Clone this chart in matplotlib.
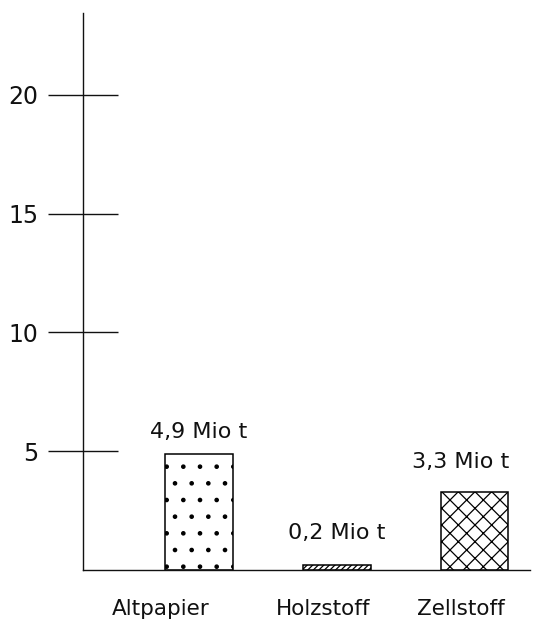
import matplotlib.pyplot as plt

categories = ['Altpapier', 'Holzstoff', 'Zellstoff']
values = [4.9, 0.2, 3.3]
value_labels = ['4,9 Mio t', '0,2 Mio t', '3,3 Mio t']
hatches = ['.', '//////', 'xx']
yticks = [5, 10, 15, 20]

plt.rcParams['font.family'] = ['DejaVu Sans']
plt.rcParams['hatch.linewidth'] = 0.9

fig = plt.figure(figsize=(5.44, 6.23), dpi=100)
ax = fig.add_axes([0.1526, 0.0851, 0.8214, 0.894])

x = list(range(len(categories)))
bars = ax.bar(x, values, width=0.49, color='white', edgecolor='black',
              linewidth=1.1, zorder=2)
for b, h in zip(bars, hatches):
    b.set_hatch(h)

# value labels above bars
label_lift = [0.9, 1.35, 1.25]
label_shift = [0.0, 0.0, -0.1]
for i, (v, t) in enumerate(zip(values, value_labels)):
    ax.text(i + label_shift[i], v + label_lift[i], t, ha='center', va='center',
            fontsize=16, color='#111111')

# category names below the axis
cat_shift = [-0.28, -0.1, -0.1]
for i, c in enumerate(categories):
    ax.text(i + cat_shift[i], -1.65, c, ha='center', va='center', fontsize=15.5,
            color='#111111')

ax.set_xlim(-0.84, 2.40)
ax.set_ylim(0, 23.45)
ax.set_xticks([])
ax.set_yticks(yticks)
ax.set_yticklabels([str(t) for t in yticks], fontsize=17, color='#111111')
ax.tick_params(axis='y', direction='inout', length=50, width=1.0, pad=7,
               color='#111111')

for s in ['top', 'right']:
    ax.spines[s].set_visible(False)
for s in ['left', 'bottom']:
    ax.spines[s].set_linewidth(1.0)
    ax.spines[s].set_color('#111111')

fig.savefig('out.png', dpi=100)
